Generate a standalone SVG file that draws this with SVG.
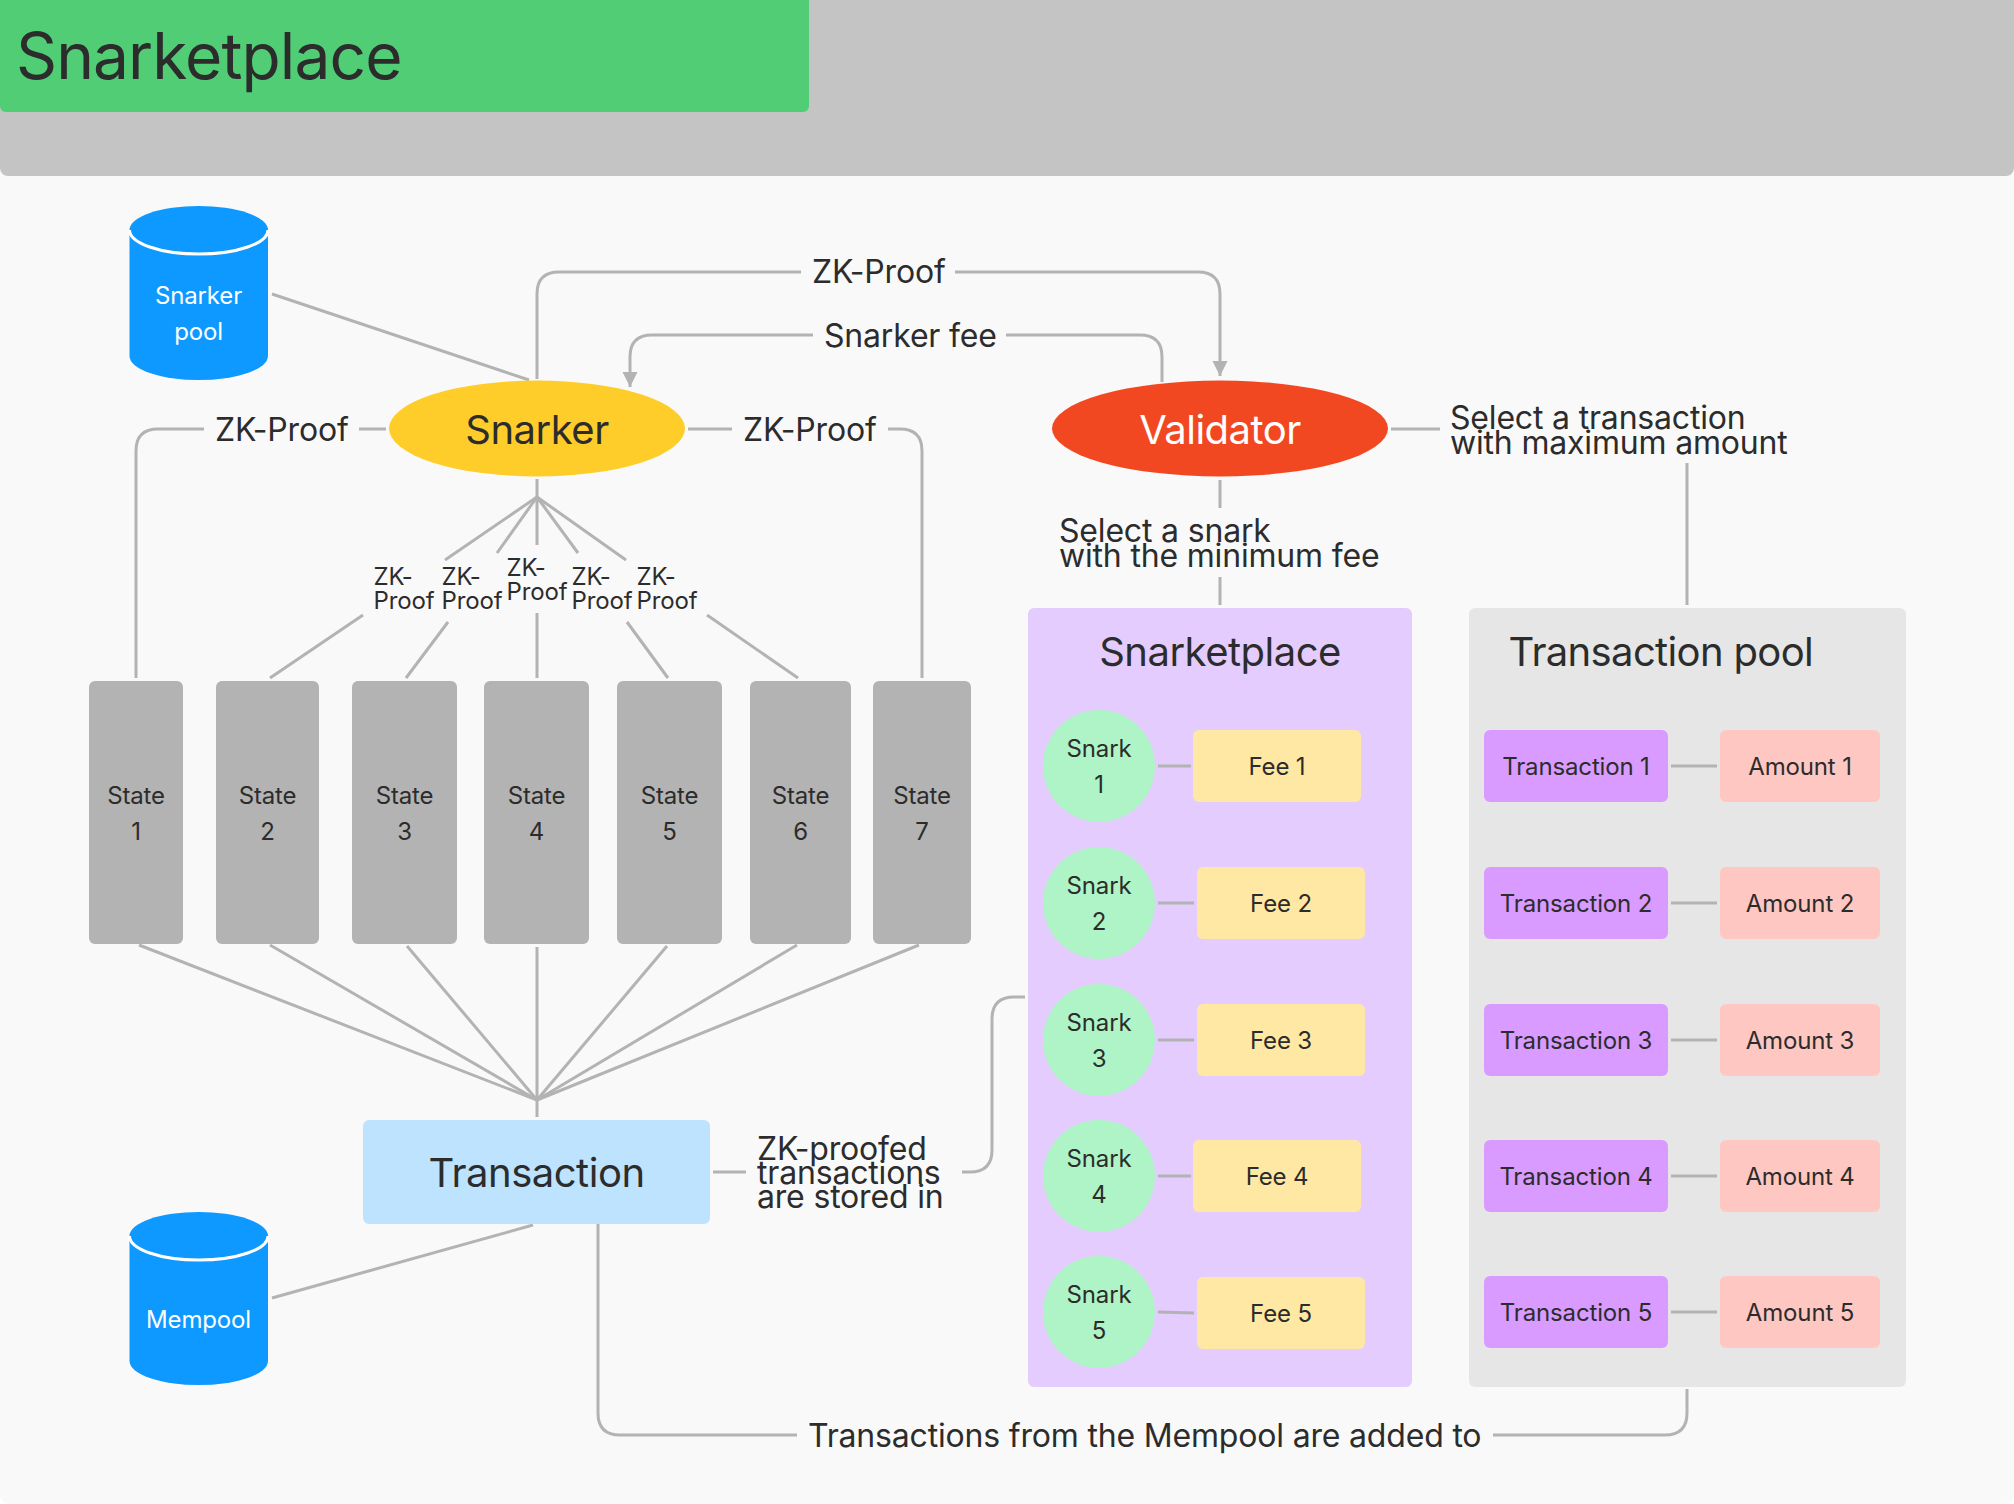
<svg xmlns="http://www.w3.org/2000/svg" width="2014" height="1504" viewBox="0 0 2014 1504">
<defs>
<marker id="arr" markerUnits="userSpaceOnUse" markerWidth="16" markerHeight="16" refX="15" refY="8" orient="auto"><path d="M0,0.5 L15,8 L0,15.5 Z" fill="#b3b3b3"/></marker>
</defs>
<style>
text{font-family:Inter,"Liberation Sans",sans-serif;fill:#2c2c2c}
.c{text-anchor:middle}
.w{fill:#fff}
.t24{font-size:24px;letter-spacing:-.15px}
.t32{font-size:32px;letter-spacing:-.18px}
.t40{font-size:40px;letter-spacing:-.5px}
#connectors path{fill:none;stroke:#b3b3b3;stroke-width:3}
.state{fill:#b3b3b3}
.snark{fill:#aff4c6}
.fee{fill:#ffe8a3}
.tx{fill:#d99bff}
.amt{fill:#ffc7c2}
.cyl{fill:#0d99ff}
.rim{fill:none;stroke:#fff;stroke-width:3}
</style>
<rect width="2014" height="1504" fill="#fff"/>
<rect id="canvas" width="2014" height="1504" rx="9" fill="#f9f9f9"/>
<g id="header">
<rect x="0" y="-20" width="2014" height="196" rx="8" fill="#c4c4c4"/>
<rect x="0" y="-20" width="809" height="132" rx="6" fill="#50cd75"/>
<text x="16" y="79" font-size="64" letter-spacing="-.9" fill="#333">Snarketplace</text>
</g>
<g id="panel-snarketplace">
<rect x="1028" y="608" width="384" height="779" rx="6" fill="#e4ccff"/>
<text class="t40 c" x="1220" y="666">Snarketplace</text>
</g>
<g id="panel-transaction-pool">
<rect x="1469" y="608" width="437" height="779" rx="6" fill="#e6e6e6"/>
<text class="t40" x="1508.500" y="666" style="letter-spacing:-.65px">Transaction pool</text>
</g>
<g id="connectors">
<path d="M272,294 L529,380"/>
<path d="M537,379 V294 Q537,272 559,272 H801"/>
<path d="M955,272 H1198 Q1220,272 1220,294 V376" marker-end="url(#arr)"/>
<path d="M813,335 H652 Q630,335 630,357 V387" marker-end="url(#arr)"/>
<path d="M1006,335 H1140 Q1162,335 1162,357 V382"/>
<path d="M204,429 H158 Q136,429 136,451 V678"/>
<path d="M359,429 H386"/>
<path d="M688,429 H732"/>
<path d="M888,429 H900 Q922,429 922,451 V678"/>
<path d="M537,479 V545"/>
<path d="M537,497 L445,560"/>
<path d="M537,497 L497,553"/>
<path d="M537,497 L578,553"/>
<path d="M537,497 L626,560"/>
<path d="M363,615 L270,678"/>
<path d="M448,622 L406,678"/>
<path d="M537,613 V678"/>
<path d="M627,622 L668,678"/>
<path d="M707,615 L798,678"/>
<path d="M139,945 L537,1100"/>
<path d="M270,945 L537,1100"/>
<path d="M407,946 L537,1100"/>
<path d="M537,947 V1117"/>
<path d="M667,946 L537,1100"/>
<path d="M797,945 L537,1100"/>
<path d="M919,945 L537,1100"/>
<path d="M272,1298 L533,1225"/>
<path d="M713,1172 H746"/>
<path d="M962,1172 H970 Q992,1172 992,1150 V1019 Q992,997 1014,997 H1025"/>
<path d="M598,1224 V1413 Q598,1435 620,1435 H797"/>
<path d="M1493,1435 H1665 Q1687,1435 1687,1413 V1389"/>
<path d="M1391,429 H1440"/>
<path d="M1687,463 V605"/>
<path d="M1220,480 V508"/>
<path d="M1220,577 V605"/>
<path d="M1158,766 H1191"/>
<path d="M1158,903 H1194"/>
<path d="M1158,1040 H1194"/>
<path d="M1158,1176 H1191"/>
<path d="M1158,1312 L1194,1313"/>
<path d="M1671,766 H1717"/>
<path d="M1671,903 H1717"/>
<path d="M1671,1040 H1717"/>
<path d="M1671,1176 H1717"/>
<path d="M1671,1312 H1717"/>
</g>
<g id="connector-labels">
<text class="t32" x="812" y="283">ZK-Proof</text>
<text class="t32" x="824" y="347">Snarker fee</text>
<text class="t32" x="215" y="441">ZK-Proof</text>
<text class="t32" x="743" y="441">ZK-Proof</text>
<text class="t24"><tspan x="373.500" y="585">ZK-</tspan><tspan x="373.500" y="609">Proof</tspan></text>
<text class="t24"><tspan x="441.500" y="585">ZK-</tspan><tspan x="441.500" y="609">Proof</tspan></text>
<text class="t24"><tspan x="506.500" y="576">ZK-</tspan><tspan x="506.500" y="600">Proof</tspan></text>
<text class="t24"><tspan x="571.500" y="585">ZK-</tspan><tspan x="571.500" y="609">Proof</tspan></text>
<text class="t24"><tspan x="636.500" y="585">ZK-</tspan><tspan x="636.500" y="609">Proof</tspan></text>
<text class="t32"><tspan x="1450" y="429">Select a transaction</tspan><tspan x="1450" y="454">with maximum amount</tspan></text>
<text class="t32"><tspan x="1059" y="542">Select a snark</tspan><tspan x="1059" y="567">with the minimum fee</tspan></text>
<text class="t32"><tspan x="757" y="1160">ZK-proofed</tspan><tspan x="757" y="1184">transactions</tspan><tspan x="757" y="1208">are stored in</tspan></text>
<text class="t32" x="808" y="1447">Transactions from the Mempool are added to</text>
</g>
<g id="snarker-pool">
<path class="cyl" d="M129.5,230 A69,24 0 0 1 268,230 V356 A69,24 0 0 1 129.5,356 Z"/>
<path class="rim" d="M129.5,230 A69,24 0 0 0 268,230"/>
<text class="t24 c w"><tspan x="198.5" y="304">Snarker</tspan><tspan x="198.5" y="340">pool</tspan></text>
</g>
<g id="mempool">
<path class="cyl" d="M129.5,1236 A69,24 0 0 1 268,1236 V1361 A69,24 0 0 1 129.5,1361 Z"/>
<path class="rim" d="M129.5,1236 A69,24 0 0 0 268,1236"/>
<text class="t24 c w" x="198.5" y="1328">Mempool</text>
</g>
<g id="snarker">
<ellipse cx="537" cy="428.5" rx="148" ry="48" fill="#ffcd29"/>
<text class="t40 c" x="537" y="444">Snarker</text>
</g>
<g id="validator">
<ellipse cx="1220" cy="428.5" rx="168" ry="48" fill="#f24822"/>
<text class="t40 c w" x="1220" y="444">Validator</text>
</g>
<g id="state-1"><rect class="state" x="89" y="681" width="94" height="263" rx="6"/><text class="t24 c"><tspan x="136" y="804">State</tspan><tspan x="136" y="840">1</tspan></text></g>
<g id="state-2"><rect class="state" x="216" y="681" width="103" height="263" rx="6"/><text class="t24 c"><tspan x="267.500" y="804">State</tspan><tspan x="267.500" y="840">2</tspan></text></g>
<g id="state-3"><rect class="state" x="352" y="681" width="105" height="263" rx="6"/><text class="t24 c"><tspan x="404.500" y="804">State</tspan><tspan x="404.500" y="840">3</tspan></text></g>
<g id="state-4"><rect class="state" x="484" y="681" width="105" height="263" rx="6"/><text class="t24 c"><tspan x="536.500" y="804">State</tspan><tspan x="536.500" y="840">4</tspan></text></g>
<g id="state-5"><rect class="state" x="617" y="681" width="105" height="263" rx="6"/><text class="t24 c"><tspan x="669.500" y="804">State</tspan><tspan x="669.500" y="840">5</tspan></text></g>
<g id="state-6"><rect class="state" x="750" y="681" width="101" height="263" rx="6"/><text class="t24 c"><tspan x="800.500" y="804">State</tspan><tspan x="800.500" y="840">6</tspan></text></g>
<g id="state-7"><rect class="state" x="873" y="681" width="98" height="263" rx="6"/><text class="t24 c"><tspan x="922" y="804">State</tspan><tspan x="922" y="840">7</tspan></text></g>
<g id="transaction">
<rect x="363" y="1120" width="347" height="104" rx="6" fill="#bde3ff"/>
<text class="t40 c" x="536.500" y="1187">Transaction</text>
</g>
<g id="snark-1"><ellipse class="snark" cx="1099" cy="766" rx="56" ry="56"/><text class="t24 c"><tspan x="1099" y="757">Snark</tspan><tspan x="1099" y="793">1</tspan></text></g>
<g id="snark-2"><ellipse class="snark" cx="1099" cy="903" rx="56" ry="56"/><text class="t24 c"><tspan x="1099" y="894">Snark</tspan><tspan x="1099" y="930">2</tspan></text></g>
<g id="snark-3"><ellipse class="snark" cx="1099" cy="1040" rx="56" ry="56"/><text class="t24 c"><tspan x="1099" y="1031">Snark</tspan><tspan x="1099" y="1067">3</tspan></text></g>
<g id="snark-4"><ellipse class="snark" cx="1099" cy="1176" rx="56" ry="56"/><text class="t24 c"><tspan x="1099" y="1167">Snark</tspan><tspan x="1099" y="1203">4</tspan></text></g>
<g id="snark-5"><ellipse class="snark" cx="1099" cy="1312" rx="56" ry="56"/><text class="t24 c"><tspan x="1099" y="1303">Snark</tspan><tspan x="1099" y="1339">5</tspan></text></g>
<g id="fee-1"><rect class="fee" x="1193" y="730" width="168" height="72" rx="6"/><text class="t24 c" x="1277" y="775">Fee 1</text></g>
<g id="fee-2"><rect class="fee" x="1197" y="867" width="168" height="72" rx="6"/><text class="t24 c" x="1281" y="912">Fee 2</text></g>
<g id="fee-3"><rect class="fee" x="1197" y="1004" width="168" height="72" rx="6"/><text class="t24 c" x="1281" y="1049">Fee 3</text></g>
<g id="fee-4"><rect class="fee" x="1193" y="1140" width="168" height="72" rx="6"/><text class="t24 c" x="1277" y="1185">Fee 4</text></g>
<g id="fee-5"><rect class="fee" x="1197" y="1277" width="168" height="72" rx="6"/><text class="t24 c" x="1281" y="1322">Fee 5</text></g>
<g id="transaction-1"><rect class="tx" x="1484" y="730" width="184" height="72" rx="6"/><text class="t24 c" x="1576" y="775">Transaction 1</text></g>
<g id="transaction-2"><rect class="tx" x="1484" y="867" width="184" height="72" rx="6"/><text class="t24 c" x="1576" y="912">Transaction 2</text></g>
<g id="transaction-3"><rect class="tx" x="1484" y="1004" width="184" height="72" rx="6"/><text class="t24 c" x="1576" y="1049">Transaction 3</text></g>
<g id="transaction-4"><rect class="tx" x="1484" y="1140" width="184" height="72" rx="6"/><text class="t24 c" x="1576" y="1185">Transaction 4</text></g>
<g id="transaction-5"><rect class="tx" x="1484" y="1276" width="184" height="72" rx="6"/><text class="t24 c" x="1576" y="1321">Transaction 5</text></g>
<g id="amount-1"><rect class="amt" x="1720" y="730" width="160" height="72" rx="6"/><text class="t24 c" x="1800" y="775">Amount 1</text></g>
<g id="amount-2"><rect class="amt" x="1720" y="867" width="160" height="72" rx="6"/><text class="t24 c" x="1800" y="912">Amount 2</text></g>
<g id="amount-3"><rect class="amt" x="1720" y="1004" width="160" height="72" rx="6"/><text class="t24 c" x="1800" y="1049">Amount 3</text></g>
<g id="amount-4"><rect class="amt" x="1720" y="1140" width="160" height="72" rx="6"/><text class="t24 c" x="1800" y="1185">Amount 4</text></g>
<g id="amount-5"><rect class="amt" x="1720" y="1276" width="160" height="72" rx="6"/><text class="t24 c" x="1800" y="1321">Amount 5</text></g>
</svg>
